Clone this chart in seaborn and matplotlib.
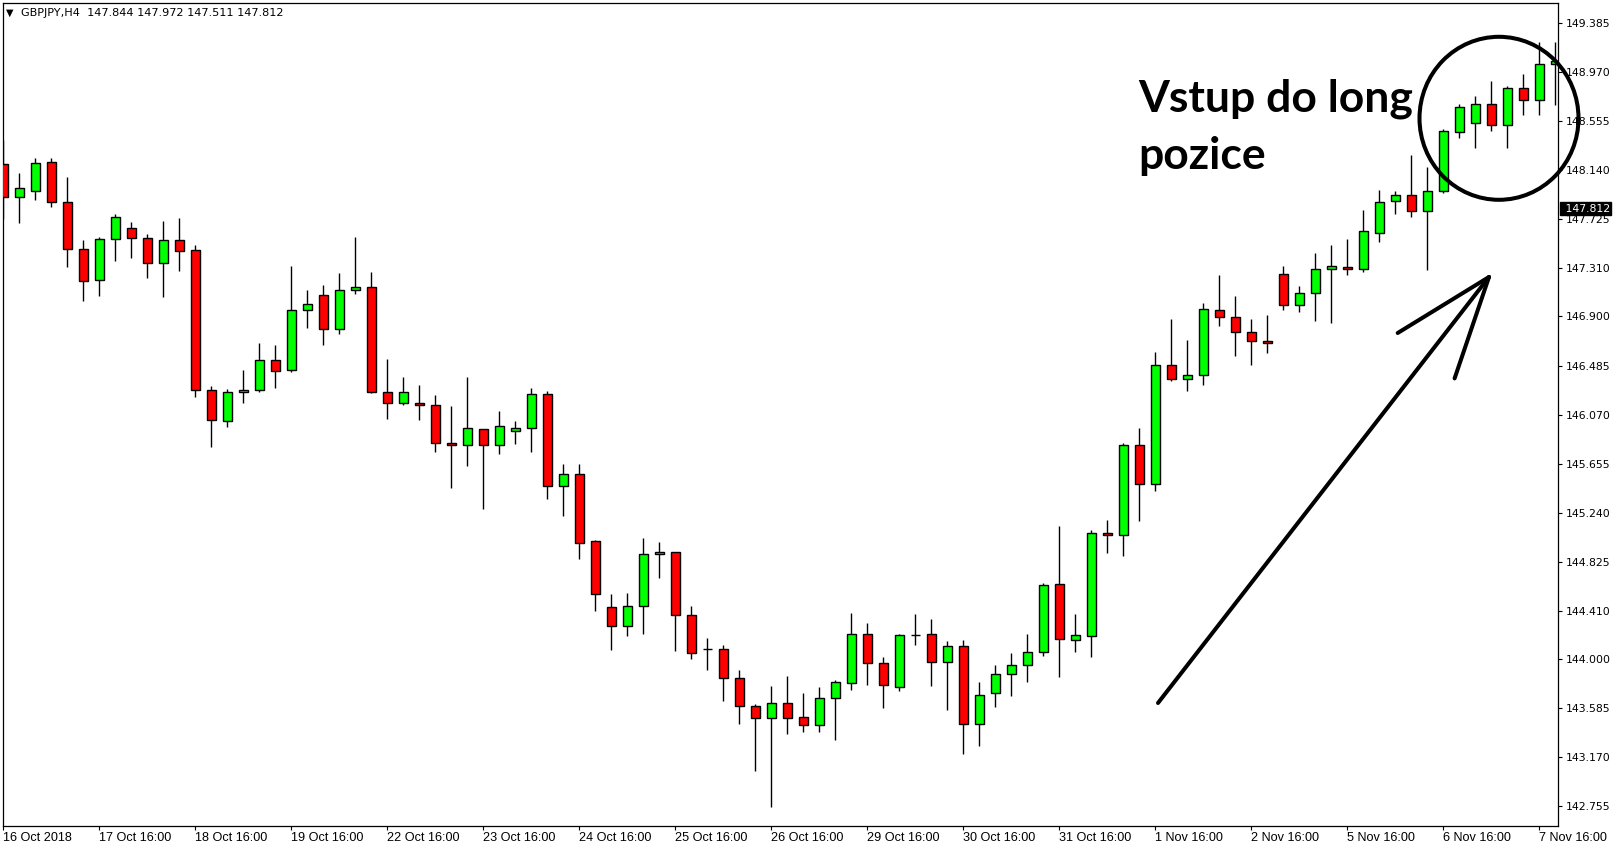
import numpy as np
import pandas as pd
import seaborn as sns
import matplotlib.pyplot as plt
from matplotlib.patches import Ellipse
from matplotlib.lines import Line2D
import matplotlib.transforms as mtransforms

# GBPJPY H4 candles (open, high, low, close)
opens = [148.188, 147.908, 147.959, 148.204, 147.866, 147.468, 147.206, 147.553, 147.646, 147.561,
         147.350, 147.545, 147.460, 146.276, 146.013, 146.259, 146.276, 146.529, 146.445, 146.952,
         147.079, 146.792, 147.122, 147.147, 146.259, 146.166, 146.166, 146.149, 145.827, 145.810,
         145.946, 145.810, 145.929, 145.954, 146.242, 145.469, 145.565, 144.998, 144.440, 144.279,
         144.448, 144.888, 144.905, 144.372, 144.087, 144.084, 143.839, 143.602, 143.501, 143.628,
         143.509, 143.441, 143.670, 143.797, 144.211, 143.966, 143.763, 144.206, 144.211, 143.974,
         144.110, 143.450, 143.712, 143.873, 143.949, 144.059, 144.634, 144.161, 144.197, 145.066,
         145.049, 145.811, 145.481, 146.487, 146.369, 146.403, 146.953, 146.894, 146.767, 146.690,
         147.257, 146.995, 147.097, 147.300, 147.322, 147.300, 147.604, 147.875, 147.926, 147.790,
         147.959, 148.459, 148.535, 148.696, 148.518, 148.831, 148.729, 149.034]
highs = [148.393, 148.114, 148.241, 148.241, 148.080, 147.547, 147.573, 147.767, 147.700, 147.598,
         147.708, 147.734, 147.502, 146.309, 146.284, 146.448, 146.676, 146.659, 147.327, 147.122,
         147.164, 147.265, 147.573, 147.274, 146.538, 146.388, 146.321, 146.236, 146.143, 146.388,
         145.950, 146.101, 146.016, 146.295, 146.270, 145.652, 145.652, 145.005, 144.553, 144.561,
         145.026, 144.990, 144.910, 144.451, 144.178, 144.121, 143.910, 143.619, 143.774, 143.859,
         143.715, 143.766, 143.822, 144.389, 144.304, 144.017, 144.211, 144.381, 144.338, 144.152,
         144.161, 143.805, 143.949, 144.051, 144.211, 144.643, 145.125, 144.381, 145.094, 145.179,
         145.828, 145.957, 146.597, 146.879, 146.699, 147.012, 147.249, 147.071, 146.877, 146.910,
         147.325, 147.156, 147.435, 147.503, 147.559, 147.799, 147.968, 147.959, 148.264, 148.163,
         148.484, 148.696, 148.763, 148.890, 148.848, 148.949, 149.220, 149.220]
lows = [147.722, 147.694, 147.889, 147.829, 147.322, 147.034, 147.076, 147.373, 147.398, 147.229,
        147.068, 147.288, 146.222, 145.799, 145.968, 146.171, 146.259, 146.298, 146.428, 146.806,
        146.656, 146.755, 147.088, 146.250, 146.030, 146.149, 146.027, 145.757, 145.452, 145.638,
        145.274, 145.740, 145.824, 145.757, 145.359, 145.215, 144.851, 144.412, 144.082, 144.200,
        144.217, 144.691, 144.073, 144.006, 143.912, 143.650, 143.456, 143.058, 142.753, 143.365,
        143.388, 143.388, 143.320, 143.743, 143.785, 143.591, 143.729, 144.118, 143.777, 143.574,
        143.202, 143.269, 143.599, 143.692, 143.805, 144.031, 143.853, 144.065, 144.020, 144.903,
        144.877, 145.173, 145.427, 146.352, 146.273, 146.324, 146.817, 146.569, 146.493, 146.589,
        146.953, 146.936, 146.860, 146.843, 147.255, 147.274, 147.528, 147.765, 147.740, 147.291,
        147.943, 148.408, 148.323, 148.467, 148.323, 148.602, 148.602, 148.687]
closes = [147.911, 147.985, 148.196, 147.866, 147.468, 147.198, 147.553, 147.739, 147.561, 147.350,
          147.545, 147.452, 146.276, 146.022, 146.259, 146.276, 146.529, 146.436, 146.952, 147.003,
          146.792, 147.122, 147.147, 146.259, 146.166, 146.259, 146.149, 145.827, 145.810, 145.954,
          145.810, 145.971, 145.954, 146.242, 145.469, 145.565, 144.987, 144.550, 144.279, 144.448,
          144.888, 144.905, 144.372, 144.051, 144.087, 143.839, 143.602, 143.501, 143.628, 143.501,
          143.441, 143.670, 143.805, 144.211, 143.966, 143.780, 144.203, 144.206, 143.974, 144.110,
          143.450, 143.695, 143.873, 143.949, 144.059, 144.626, 144.169, 144.203, 145.064, 145.049,
          145.811, 145.481, 146.487, 146.369, 146.403, 146.961, 146.894, 146.767, 146.690, 146.674,
          146.995, 147.097, 147.300, 147.325, 147.300, 147.621, 147.866, 147.926, 147.790, 147.959,
          148.467, 148.670, 148.696, 148.518, 148.831, 148.729, 149.034, 149.059]

date_labels = ["16 Oct 2018", "17 Oct 16:00", "18 Oct 16:00", "19 Oct 16:00", "22 Oct 16:00",
               "23 Oct 16:00", "24 Oct 16:00", "25 Oct 16:00", "26 Oct 16:00", "29 Oct 16:00",
               "30 Oct 16:00", "31 Oct 16:00", "1 Nov 16:00", "2 Nov 16:00", "5 Nov 16:00",
               "6 Nov 16:00", "7 Nov 16:00"]
price_ticks = [149.385, 148.970, 148.555, 148.140, 147.725, 147.310, 146.900, 146.485, 146.070,
               145.655, 145.240, 144.825, 144.410, 144.000, 143.585, 143.170, 142.755]
header = "GBPJPY,H4  147.844 147.972 147.511 147.812"
last_price = 147.812

df = pd.DataFrame({"open": opens, "high": highs, "low": lows, "close": closes})
df["bar"] = np.arange(len(df))
df["bottom"] = df[["open", "close"]].min(axis=1)
df["height"] = (df["close"] - df["open"]).abs()
df["color"] = np.where(df["close"] > df["open"], "#00ff00",
                       np.where(df["close"] < df["open"], "#ff0000", "black"))

sns.set_theme(style="white")
plt.rcParams["font.family"] = ["DejaVu Sans"]

W, H = 1621, 850
fig = plt.figure(figsize=(W / 100, H / 100), dpi=100)
fig.patch.set_facecolor("white")

def fx(x):
    return x / W

def fy(y):
    return 1 - y / H

ax = fig.add_axes([fx(2.7), fy(826), fx(1557.7 - 2.7), (826 - 2.7) / H])
ax.set_facecolor("white")

# wicks then bodies
ax.vlines(df["bar"], df["low"], df["high"], color="black", lw=1.0, zorder=2)
ax.bar(df["bar"], df["height"], bottom=df["bottom"], width=0.58, color=df["color"],
       edgecolor="black", linewidth=1.0, zorder=3)

ax.set_xlim(-0.04, 97.15)
ax.set_ylim(142.589, 149.555)

for s in ax.spines.values():
    s.set_visible(True)
    s.set_color("black")
    s.set_linewidth(0.9)

ax.yaxis.tick_right()
ax.set_yticks(price_ticks)
ax.set_yticklabels([f"{v:.3f}" for v in price_ticks])
ax.tick_params(axis="y", which="both", left=False, right=True, direction="out",
               length=3, width=0.8, pad=2.5, labelsize=7.8, colors="black")

ax.set_xticks(np.arange(0, 97, 6))
ax.set_xticklabels(date_labels, ha="left", fontfamily="Liberation Sans", fontsize=9.1)
ax.tick_params(axis="x", bottom=True, direction="out", length=3, width=0.8, pad=1.5,
               colors="black")
ax.grid(False)

# current price tag
trans = mtransforms.blended_transform_factory(ax.transAxes, ax.transData)
ax.text(1.0025, last_price, " " + f"{last_price:.3f}", transform=trans, color="white",
        fontsize=7.8, va="center", ha="left", clip_on=False, zorder=10,
        bbox=dict(boxstyle="square,pad=0.15", facecolor="black", edgecolor="black"))

# header
fig.text(fx(6), fy(12.5), "▼", fontsize=7, va="center", ha="left", color="black")
fig.text(fx(21), fy(12.5), header, fontsize=8.15, va="center", ha="left", color="black")

# annotation text
fig.text(fx(1138), fy(111.7), "Vstup do long", fontsize=32, fontweight="bold",
         family=["Lato", "DejaVu Sans"], va="baseline", ha="left", color="black")
fig.text(fx(1138), fy(168.5), "pozice", fontsize=32, fontweight="bold",
         family=["Lato", "DejaVu Sans"], va="baseline", ha="left", color="black")

# circle around entry
circ = Ellipse((fx(1499), fy(118.3)), width=159 / W, height=163 / H,
               transform=fig.transFigure, fill=False, edgecolor="black", lw=2.9, zorder=20)
fig.add_artist(circ)

# arrow
tip = (1489, 277)
for start in [(1158, 703), (1397.7, 333), (1454.6, 378.4)]:
    fig.add_artist(Line2D([fx(start[0]), fx(tip[0])], [fy(start[1]), fy(tip[1])],
                          transform=fig.transFigure, color="black", lw=2.9,
                          solid_capstyle="round", zorder=20))

fig.savefig("out.png", dpi=100, facecolor="white")
